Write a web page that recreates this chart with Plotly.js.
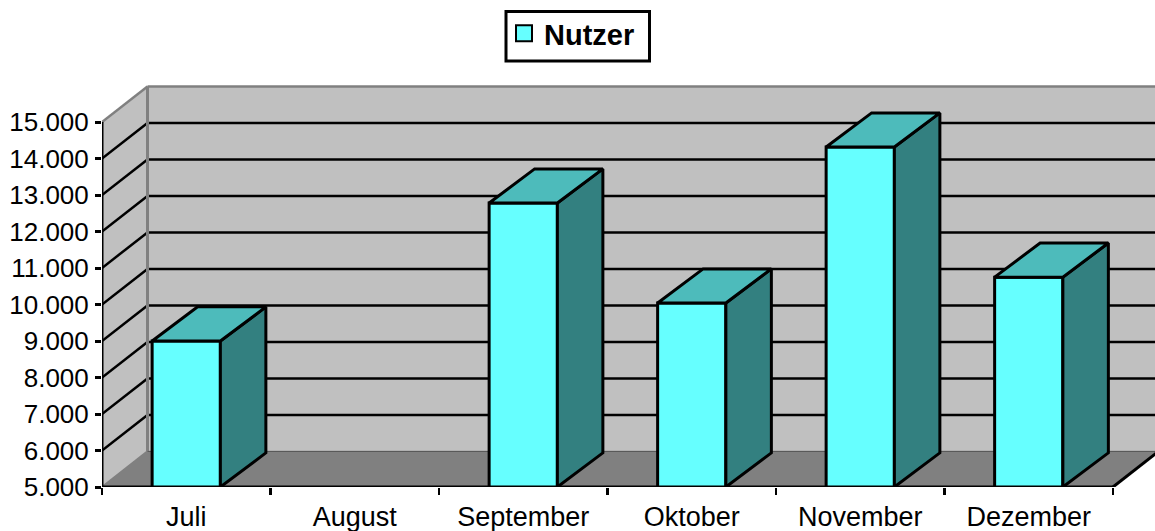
<!DOCTYPE html>
<html>
<head>
<meta charset="utf-8">
<script src="https://cdn.plot.ly/plotly-3.0.1.min.js"></script>
<style>html,body{margin:0;padding:0;background:#fff}#chart{width:1155px;height:531px}</style>
</head>
<body>
<div id="chart"></div>
<script>
const categories = ["Juli", "August", "September", "Oktober", "November", "Dezember"];
const seriesName = "Nutzer";
const nutzer = [9000, null, 12780, 10040, 14315, 10750];
const yTicks = [5000, 6000, 7000, 8000, 9000, 10000, 11000, 12000, 13000, 14000, 15000];
const yTickLabels = ["5.000", "6.000", "7.000", "8.000", "9.000", "10.000", "11.000", "12.000", "13.000", "14.000", "15.000"];

const FONT = "Liberation Sans, Arial, sans-serif";
const xIdx = categories.map((_, i) => i);
const xLeft = -0.5, xRight = categories.length - 0.5;
const yMin = yTicks[0], yMax = yTicks[yTicks.length - 1];
const wallDx = 0.27, wallDy = 975;   // depth of the 3D box, axis units
const barDx = 0.27, barDy = 935;     // depth of a bar
const barW = 0.405;

const GRAY = "#C0C0C0", DARK = "#808080";
function poly(xs, ys, fill, lineColor, lineW) {
  let path = xs.map((x, i) => (i ? "L" : "M") + x + "," + ys[i]).join(" ") + " Z";
  return {type: "path", xref: "x", yref: "y", layer: "below", path,
          fillcolor: fill, line: {color: lineColor, width: lineW}};
}
function seg(x0, y0, x1, y1, color, w) {
  return {type: "line", xref: "x", yref: "y", layer: "below", x0, y0, x1, y1, line: {color, width: w}};
}
const wallTop = yMax + wallDy, floorBack = yMin + wallDy, bx = xLeft + wallDx;
const shapes = [
  {type: "rect", xref: "paper", yref: "paper", layer: "below",
   x0: (506 - 102) / 1053, x1: (649.5 - 102) / 1053,
   y0: (487 - 61) / 407, y1: (487 - 11.5) / 407,
   fillcolor: "#fff", line: {color: "#000", width: 3}},
  poly([bx, xRight + wallDx + 1, xRight + wallDx + 1, bx], [floorBack, floorBack, wallTop, wallTop], GRAY, GRAY, 0),
  poly([xLeft, bx, bx, xLeft], [yMin, floorBack, wallTop, yMax], GRAY, GRAY, 0),
  poly([xLeft, bx, xRight + wallDx, xRight], [yMin, floorBack, floorBack, yMin], DARK, DARK, 1)
];
yTicks.slice(1, -1).forEach(v => {
  shapes.push(seg(xLeft, v, bx, v + wallDy, "#000", 2.5));
  shapes.push(seg(bx, v + wallDy, xRight + wallDx + 1, v + wallDy, "#000", 2.5));
});
shapes.push(seg(xLeft, yMax, bx, wallTop, DARK, 2.5));
shapes.push(seg(bx, wallTop, xRight + wallDx + 1, wallTop, DARK, 2.5));
shapes.push(seg(bx, floorBack, bx, wallTop, DARK, 3));
shapes.push(seg(xLeft, yMin, bx, floorBack, DARK, 2));
shapes.push(seg(bx, floorBack, xRight + wallDx + 1, floorBack, "#555", 1));
shapes.push(seg(xRight, yMin, xRight + wallDx, floorBack, "#000", 3));

const sideX = [], sideY = [], topX = [], topY = [];
nutzer.forEach((v, i) => {
  if (v === null) return;
  const l = i - barW / 2, r = i + barW / 2;
  sideX.push(r, r + barDx, r + barDx, r, r, null);
  sideY.push(yMin, yMin + barDy, v + barDy, v, yMin, null);
  topX.push(l, l + barDx, r + barDx, r, l, null);
  topY.push(v, v + barDy, v + barDy, v, v, null);
});

const common = {hoverinfo: "skip", showlegend: false};
const traces = [
  Object.assign({type: "bar", x: xIdx, y: nutzer, width: barW, name: seriesName,
    marker: {color: "#66FFFF", line: {color: "#000", width: 3}}}, common),
  Object.assign({type: "scatter", mode: "lines", x: sideX, y: sideY, fill: "toself",
    fillcolor: "#338080", line: {color: "#000", width: 3}}, common),
  Object.assign({type: "scatter", mode: "lines", x: topX, y: topY, fill: "toself",
    fillcolor: "#4DBBBB", line: {color: "#000", width: 3}}, common),
  Object.assign({type: "scatter", mode: "lines", x: [xLeft, xRight], y: [yMin, yMin], cliponaxis: false,
    line: {color: "#000", width: 3}}, common),
  Object.assign({type: "scatter", mode: "lines", x: [xLeft, xLeft], y: [yMin, yMax], cliponaxis: false,
    line: {color: "#000", width: 3}}, common),
  {type: "scatter", mode: "markers", x: [null], y: [null], name: seriesName, showlegend: true,
   marker: {symbol: "square", size: 16, color: "#66FFFF", line: {color: "#000", width: 2}}}
];

const pxPerCat = (1113 - 102) / categories.length;
const pxPerUnit = 36.5 / 1000;
const layout = {
  width: 1155, height: 531, paper_bgcolor: "#fff", plot_bgcolor: "#fff",
  margin: {l: 102, r: 0, t: 80, b: 44, pad: 0, autoexpand: false},
  font: {family: FONT, color: "#000"},
  showlegend: true,
  legend: {xref: "container", yref: "container", x: 504 / 1155, y: 1 - 8 / 531,
    xanchor: "left", yanchor: "top", bgcolor: "rgba(0,0,0,0)", borderwidth: 0,
    font: {family: FONT, size: 29, color: "#000", weight: "bold"}},
  xaxis: {range: [xLeft, xLeft + 1053 / pxPerCat], tickmode: "array", tickvals: xIdx, ticktext: categories,
    ticks: "", showgrid: false, zeroline: false, showline: false, ticklabelstandoff: 11,
    tickfont: {family: FONT, size: 27, color: "#000"},
    minor: {tickmode: "array", tickvals: xIdx.map(i => i - 0.5).concat([xRight]), ticks: "outside",
      ticklen: 7, tickwidth: 2.5, tickcolor: "#000", showgrid: false}},
  yaxis: {range: [yMin, yMin + 407 / pxPerUnit], tickmode: "array", tickvals: yTicks, ticktext: yTickLabels,
    ticks: "outside", ticklen: 6, tickwidth: 3, tickcolor: "#000", showgrid: false, zeroline: false,
    ticklabelstandoff: 1,
    showline: false, tickfont: {family: FONT, size: 26, color: "#000"}},
  shapes,
  hovermode: false
};
Plotly.newPlot("chart", traces, layout, {displayModeBar: false, staticPlot: true});
</script>
</body>
</html>
